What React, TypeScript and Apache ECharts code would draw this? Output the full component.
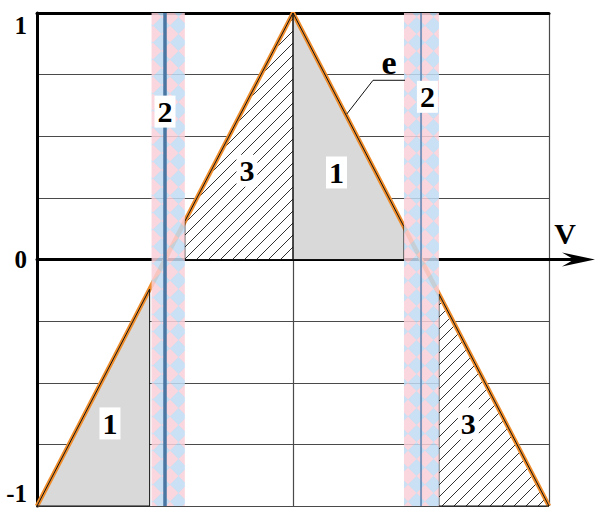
import React, { useEffect, useRef } from "react";
import * as echarts from "echarts";

// Characteristic e(V): triangle rising from (0,-1) to (2,1) and falling to (4,-1)
const vPoints = [0, 2, 4];
const ePoints = [-1, 1, -1];

// y tick labels that are printed
const yTickLabels = ["-1", "0", "1"];

// Shaded zones, as polygons in (V, e)
const zone1Left = [[0, -1], [0.88, -0.12], [0.88, -1]];
const zone3Upper = [[1.155, 0], [1.155, 0.155], [2, 1], [2, 0]];
const zone1Upper = [[2, 0], [2, 1], [2.867, 0.133], [2.867, 0]];
const zone3Lower = [[3.14, -0.14], [4, -1], [3.14, -1]];

// Zone kinds: "gray" = filled, "hatch" = hatched
const zoneKinds = ["gray", "hatch", "gray", "hatch"];

// Transition bands around the zero crossings
const bandLeft = [0.895, 1.155];
const bandRight = [2.867, 3.14];
const crossings = [1, 3];
const crossingWidths = [3.5, 1.4];

// Zone numbers and their anchor points
const zoneTexts = ["1", "3", "1", "3", "2", "2"];
const zoneTextPos = [
  [0.57, -0.665],
  [1.64, 0.36],
  [2.34, 0.353],
  [3.37, -0.665],
  [1.0, 0.6],
  [3.05, 0.66],
];

// Leader of the curve name "e"
const curveName = "e";
const curveNamePos = [2.75, 0.8];
const leaderPoints = [
  [2.875, 0.727],
  [2.625, 0.727],
  [2.42, 0.59],
];

const axisName = "V";

const FONT = "'Liberation Serif', 'Times New Roman', serif";

const svgUrl = (svg: string) =>
  "data:image/svg+xml;charset=utf-8," + encodeURIComponent(svg);

const checkerUrl = svgUrl(
  "<svg xmlns='http://www.w3.org/2000/svg' width='17' height='17'>" +
    "<rect width='17' height='17' fill='#f9d0d9'/>" +
    "<polygon points='8.5,0 17,8.5 8.5,17 0,8.5' fill='#bfdaf3'/></svg>"
);

const hatchUrl = svgUrl(
  "<svg xmlns='http://www.w3.org/2000/svg' width='12' height='12'>" +
    "<rect width='12' height='12' fill='#ffffff'/>" +
    "<path d='M0,12 L12,0 M-3,3 L3,-3 M9,15 L15,9' stroke='#1a1a1a' stroke-width='0.9' fill='none'/></svg>"
);

export default function App() {
  const ref = useRef<HTMLDivElement>(null);

  useEffect(() => {
    if (!ref.current) return;
    const chart = echarts.init(ref.current, null, { renderer: "svg" });

    const zones = [zone1Left, zone3Upper, zone1Upper, zone3Lower];
    const checker = {
      image: checkerUrl,
      repeat: "repeat",
      imageWidth: 17,
      imageHeight: 17,
    };
    const hatch = {
      image: hatchUrl,
      repeat: "repeat",
      imageWidth: 12,
      imageHeight: 12,
    };

    const zoneFill = (kind: string) => (kind === "gray" ? "#d9d9d9" : hatch);

    chart.setOption({
      animation: false,
      grid: { left: 37, top: 13, right: 47, bottom: 6, containLabel: false },
      xAxis: [
        {
          type: "value",
          min: 0,
          max: 4,
          interval: 1,
          axisLine: { onZero: true, lineStyle: { color: "#000", width: 3 } },
          axisTick: { show: false },
          axisLabel: { show: false },
          splitLine: { show: true, lineStyle: { color: "#4a4a4a", width: 1.2 } },
        },
        {
          type: "value",
          position: "top",
          min: 0,
          max: 4,
          interval: 1,
          axisLine: { onZero: false, lineStyle: { color: "#000", width: 3 } },
          axisTick: { show: false },
          axisLabel: { show: false },
          splitLine: { show: false },
        },
      ],
      yAxis: {
        type: "value",
        min: -1,
        max: 1,
        interval: 0.25,
        axisLine: { show: true, onZero: false, lineStyle: { color: "#000", width: 3 } },
        axisTick: { show: false },
        splitLine: { show: true, lineStyle: { color: "#4a4a4a", width: 1.2 } },
        axisLabel: {
          margin: 10,
          fontFamily: FONT,
          fontWeight: "bold",
          fontSize: 25,
          color: "#000",
          verticalAlignMinLabel: "bottom",
          verticalAlignMaxLabel: "top",
          formatter: (v: number) => {
            const s = String(Math.round(v * 100) / 100);
            return yTickLabels.includes(s) ? s : "";
          },
        },
      },
      series: [
        {
          // zone fills
          type: "custom",
          z: 2,
          data: zones.map((z) => z[0]),
          renderItem: (params: any, api: any) => {
            const pts = zones[params.dataIndex].map((p) => api.coord(p));
            return {
              type: "polygon",
              shape: { points: pts },
              style: { fill: zoneFill(zoneKinds[params.dataIndex]), stroke: "none" },
            };
          },
        },
        {
          // characteristic line
          type: "line",
          z: 3,
          data: vPoints.map((v, i) => [v, ePoints[i]]),
          symbol: "none",
          lineStyle: { color: "#ef8d2c", width: 4.5 },
        },
        {
          // zone outlines
          type: "custom",
          z: 4,
          data: zones.map((z) => z[0]),
          renderItem: (params: any, api: any) => {
            const pts = zones[params.dataIndex].map((p) => api.coord(p));
            return {
              type: "polygon",
              shape: { points: pts },
              style: { fill: "none", stroke: "#111", lineWidth: 1 },
            };
          },
        },
        {
          // transition bands
          type: "custom",
          z: 5,
          data: [bandLeft, bandRight],
          renderItem: (params: any, api: any) => {
            const a = api.coord([api.value(0), 1]);
            const b = api.coord([api.value(1), -1]);
            return {
              type: "rect",
              shape: { x: a[0], y: a[1], width: b[0] - a[0], height: b[1] - a[1] },
              style: { fill: checker, opacity: 0.85 },
            };
          },
        },
        {
          // zero crossing verticals
          type: "custom",
          z: 6,
          data: crossings.map((c) => [c, 0]),
          renderItem: (params: any, api: any) => {
            const a = api.coord([api.value(0), 1]);
            const b = api.coord([api.value(0), -1]);
            return {
              type: "line",
              shape: { x1: a[0], y1: a[1], x2: b[0], y2: b[1] },
              style: {
                stroke: params.dataIndex === 0 ? "#4a76a3" : "#5683b3",
                lineWidth: crossingWidths[params.dataIndex],
              },
            };
          },
        },
        {
          // leader of the curve name
          type: "line",
          z: 7,
          data: leaderPoints,
          symbol: "none",
          lineStyle: { color: "#111", width: 1 },
        },
        {
          // zone numbers on white tags
          type: "custom",
          z: 10,
          data: zoneTextPos,
          renderItem: (params: any, api: any) => {
            const p = api.coord([api.value(0), api.value(1)]);
            return {
              type: "text",
              x: p[0],
              y: p[1],
              style: {
                text: zoneTexts[params.dataIndex],
                fontFamily: FONT,
                fontWeight: "bold",
                fontSize: 30,
                fill: "#000",
                align: "center",
                verticalAlign: "middle",
                backgroundColor: "#fff",
                padding: [2, 3, 0, 3],
              },
            };
          },
        },
        {
          // curve name
          type: "custom",
          z: 10,
          data: [curveNamePos],
          renderItem: (params: any, api: any) => {
            const p = api.coord([api.value(0), api.value(1)]);
            return {
              type: "text",
              x: p[0],
              y: p[1],
              style: {
                text: curveName,
                fontFamily: FONT,
                fontWeight: "bold",
                fontSize: 34,
                fill: "#000",
                align: "center",
                verticalAlign: "middle",
              },
            };
          },
        },
        {
          // axis arrow and its name
          type: "custom",
          z: 8,
          clip: false,
          data: [[4, 0]],
          renderItem: (params: any, api: any) => {
            const p = api.coord([api.value(0), api.value(1)]);
            return {
              type: "group",
              children: [
                {
                  type: "line",
                  shape: { x1: p[0], y1: p[1], x2: p[0] + 36, y2: p[1] },
                  style: { stroke: "#000", lineWidth: 3 },
                },
                {
                  type: "polygon",
                  shape: {
                    points: [
                      [p[0] + 46, p[1]],
                      [p[0] + 13, p[1] - 7],
                      [p[0] + 25, p[1]],
                      [p[0] + 13, p[1] + 7],
                    ],
                  },
                  style: { fill: "#000" },
                },
                {
                  type: "text",
                  x: p[0] + 16,
                  y: p[1] - 26,
                  style: {
                    text: axisName,
                    fontFamily: FONT,
                    fontWeight: "bold",
                    fontSize: 30,
                    fill: "#000",
                    align: "center",
                    verticalAlign: "middle",
                  },
                },
              ],
            };
          },
        },
      ],
    });

    return () => chart.dispose();
  }, []);

  return (
    <div
      ref={ref}
      style={{ position: "fixed", left: 0, top: 0, width: 596, height: 512, background: "#fff" }}
    />
  );
}
